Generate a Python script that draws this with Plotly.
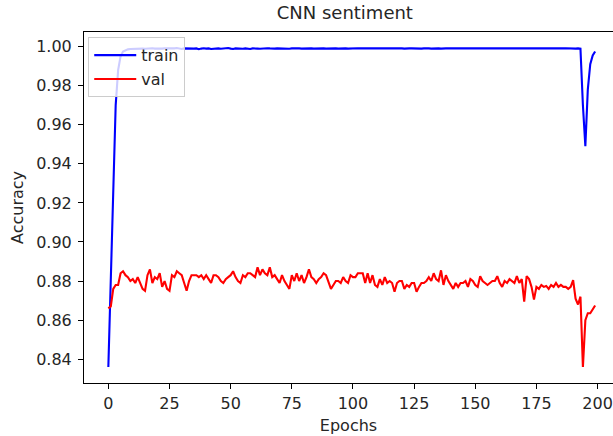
import plotly.graph_objects as go

epochs = list(range(200))

train_acc = [
    0.836, 0.882, 0.929, 0.970, 0.988, 0.995, 0.9975, 0.9982, 0.9986, 0.9988,
    0.9989, 0.9990, 0.9988, 0.9991, 0.9990, 0.9989, 0.9991, 0.9990, 0.9992, 0.9990,
    0.9989, 0.9991, 0.9990, 0.9992, 0.9991, 0.9990, 0.9989, 0.9991, 0.9993, 0.9990,
    0.9988, 0.9991, 0.9990, 0.9992, 0.9989, 0.9990, 0.9991, 0.9987, 0.9990, 0.9992,
    0.9990, 0.9991, 0.9988, 0.9990, 0.9992, 0.9991, 0.9989, 0.9990, 0.9991, 0.9993,
    0.9990, 0.9988, 0.9991, 0.9990, 0.9992, 0.9989, 0.9991, 0.9990, 0.9988, 0.9991,
    0.9992, 0.9990, 0.9989, 0.9991, 0.9990, 0.9992, 0.9991, 0.9989, 0.9990, 0.9991,
    0.9990, 0.9992, 0.9991, 0.9990, 0.9989, 0.9991, 0.9992, 0.9990, 0.9991, 0.9990,
    0.9991, 0.9990, 0.9992, 0.9991, 0.9990, 0.9991, 0.9990, 0.9992, 0.9991, 0.9990,
    0.9991, 0.9992, 0.9990, 0.9991, 0.9990, 0.9991, 0.9992, 0.9991, 0.9990, 0.9991,
    0.9990, 0.9991, 0.9992, 0.9991, 0.9990, 0.9991, 0.9991, 0.9992, 0.9990, 0.9991,
    0.9992, 0.9991, 0.9990, 0.9991, 0.9992, 0.9990, 0.9991, 0.9991, 0.9992, 0.9990,
    0.9991, 0.9990, 0.9992, 0.9991, 0.9991, 0.9990, 0.9992, 0.9991, 0.9990, 0.9991,
    0.9992, 0.9991, 0.9990, 0.9991, 0.9992, 0.9991, 0.9990, 0.9992, 0.9991, 0.9991,
    0.9990, 0.9991, 0.9992, 0.9990, 0.9991, 0.9991, 0.9992, 0.9990, 0.9991, 0.9992,
    0.9991, 0.9990, 0.9991, 0.9992, 0.9991, 0.9990, 0.9991, 0.9992, 0.9991, 0.9990,
    0.9991, 0.9992, 0.9990, 0.9991, 0.9991, 0.9992, 0.9990, 0.9991, 0.9992, 0.9991,
    0.9990, 0.9991, 0.9992, 0.9991, 0.9990, 0.9991, 0.9992, 0.9991, 0.9990, 0.9991,
    0.9992, 0.9991, 0.9990, 0.9991, 0.9992, 0.9990, 0.9991, 0.9992, 0.9991, 0.9990,
    0.9991, 0.9990, 0.9991, 0.9990, 0.970, 0.949, 0.978, 0.991, 0.9955, 0.9975,
]

val_acc = [
    0.866, 0.867, 0.876, 0.878, 0.878, 0.884, 0.885, 0.883, 0.882, 0.880,
    0.881, 0.879, 0.882, 0.879, 0.876, 0.875, 0.883, 0.886, 0.879, 0.882,
    0.881, 0.884, 0.877, 0.880, 0.876, 0.875, 0.883, 0.882, 0.885, 0.884,
    0.883, 0.879, 0.875, 0.880, 0.883, 0.883, 0.883, 0.882, 0.883, 0.881,
    0.883, 0.881, 0.879, 0.883, 0.883, 0.882, 0.880, 0.879, 0.881, 0.882,
    0.883, 0.885, 0.882, 0.880, 0.879, 0.883, 0.882, 0.884, 0.884, 0.883,
    0.882, 0.887, 0.883, 0.886, 0.884, 0.883, 0.887, 0.882, 0.883, 0.881,
    0.879, 0.883, 0.880, 0.878, 0.876, 0.883, 0.880, 0.884, 0.880, 0.883,
    0.879, 0.882, 0.886, 0.882, 0.881, 0.879, 0.881, 0.882, 0.884, 0.883,
    0.879, 0.876, 0.878, 0.880, 0.880, 0.879, 0.882, 0.880, 0.879, 0.883,
    0.882, 0.882, 0.884, 0.884, 0.884, 0.879, 0.884, 0.879, 0.883, 0.878,
    0.877, 0.881, 0.878, 0.882, 0.879, 0.880, 0.879, 0.8745, 0.879, 0.880,
    0.880, 0.876, 0.878, 0.877, 0.879, 0.879, 0.8745, 0.877, 0.879, 0.879,
    0.880, 0.882, 0.880, 0.884, 0.881, 0.880, 0.8855, 0.878, 0.883, 0.880,
    0.878, 0.876, 0.879, 0.877, 0.879, 0.879, 0.880, 0.877, 0.881, 0.880,
    0.878, 0.877, 0.8825, 0.880, 0.879, 0.878, 0.879, 0.880, 0.880, 0.8825,
    0.879, 0.877, 0.880, 0.879, 0.881, 0.880, 0.879, 0.8825, 0.879, 0.881,
    0.8695, 0.8825, 0.881, 0.877, 0.8705, 0.877, 0.876, 0.878, 0.877, 0.8775,
    0.876, 0.878, 0.877, 0.879, 0.877, 0.878, 0.877, 0.877, 0.876, 0.877,
    0.8805, 0.871, 0.868, 0.872, 0.836, 0.860, 0.8635, 0.8635, 0.8655, 0.8675,
]

x_ticks = [0, 25, 50, 75, 100, 125, 150, 175, 200]
y_ticks = [0.84, 0.86, 0.88, 0.90, 0.92, 0.94, 0.96, 0.98, 1.00]

FONT = "DejaVu Sans"
TXT = "#262626"

fig = go.Figure()
fig.add_trace(go.Scatter(x=epochs, y=train_acc, mode="lines", name="train",
                         line=dict(color="#0000ff", width=2.1), legendgroup="a"))
fig.add_trace(go.Scatter(x=epochs, y=val_acc, mode="lines", name="val",
                         line=dict(color="#ff0000", width=2.1), legendgroup="b"))

def axis_common(mirror, standoff):
    return dict(showline=True, linecolor="#000000", linewidth=1, mirror=mirror,
                ticks="outside", ticklen=5, tickwidth=1, tickcolor="#000000",
                showgrid=False, zeroline=False, ticklabelstandoff=standoff,
                tickfont=dict(family=FONT, size=16, color=TXT))

fig.update_layout(
    width=613, height=436,
    margin=dict(l=84, r=0, t=32, b=53),
    paper_bgcolor="white", plot_bgcolor="white",
    title=dict(text="CNN sentiment", x=0.5625, xanchor="center", y=0.985, yanchor="top",
               font=dict(family=FONT, size=18, color=TXT)),
    xaxis=dict(range=[-9.95, 206.3], tickvals=x_ticks,
               ticktext=[str(v) for v in x_ticks],
               title=dict(text="Epochs", font=dict(family=FONT, size=16, color=TXT),
                          standoff=7),
               **axis_common(True, 1)),
    yaxis=dict(range=[0.8278, 1.0075], tickvals=y_ticks,
               ticktext=[f"{v:.2f}" for v in y_ticks],
               title=dict(text="Accuracy", font=dict(family=FONT, size=16, color=TXT),
                          standoff=8),
               **axis_common(False, 3)),
    legend=dict(x=0.008, y=0.985, xanchor="left", yanchor="top",
                bgcolor="rgba(255,255,255,0.8)", bordercolor="#cccccc", borderwidth=1,
                font=dict(family=FONT, size=16, color=TXT),
                itemwidth=42, tracegroupgap=0),
    showlegend=True,
)

fig.write_html("out.html")
